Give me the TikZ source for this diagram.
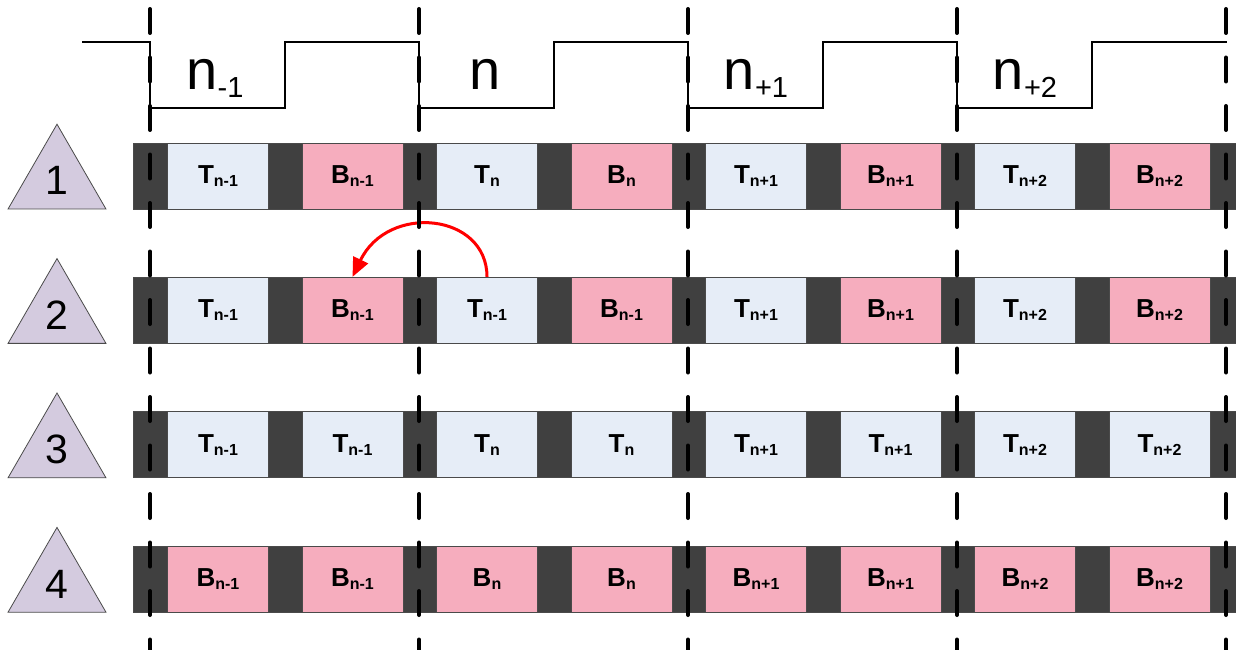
\documentclass[tikz,border=0pt]{standalone}
\usepackage{fontspec}
\setmainfont{Liberation Sans}
\usetikzlibrary{shapes.geometric,arrows.meta}
\definecolor{darkseg}{HTML}{404040}
\definecolor{tboxc}{HTML}{E6EDF7}
\definecolor{bboxc}{HTML}{F6ADBE}
\definecolor{trifill}{HTML}{D4CBDF}
\definecolor{edgec}{HTML}{4A4A4A}
\definecolor{arrred}{HTML}{FF0000}
\newcommand\boxlab[2]{\fontsize{26}{28}\selectfont\bfseries #1\raisebox{-3pt}{\fontsize{16}{17}\selectfont #2}}
\newcommand\siglab[1]{\fontsize{56}{60}\selectfont n\raisebox{-8pt}{\fontsize{29}{31}\selectfont #1}}
\begin{document}
\begin{tikzpicture}[x=1pt,y=-1pt,
  seg/.style={draw=edgec, line width=1pt, fill=darkseg, minimum width=34pt, minimum height=66pt, inner sep=0pt, anchor=west},
  cell/.style={draw=edgec, line width=1pt, minimum width=101pt, minimum height=66pt, inner sep=0pt, anchor=west},
  cellT/.style={cell, fill=tboxc},
  cellB/.style={cell, fill=bboxc},
  tri/.style={regular polygon, regular polygon sides=3, minimum size=113pt, inner sep=0pt, draw=edgec, line width=0.8pt, fill=trifill, font=\fontsize{41}{45}\selectfont},
  signal/.style={line width=2pt, black},
  vdash/.style={line width=4pt, black, line cap=round, dash pattern=on 24pt off 24.5pt},
  arrowred/.style={line width=3pt, arrred, -{Triangle[length=19pt,width=16pt]}},
  siglabel/.style={anchor=base, inner sep=0pt}
]
\useasboundingbox (0,0) rectangle (1236,650);
\clip (0,0) rectangle (1236,650);

% clock signal
\draw[signal] (82,42) -- (150,42) -- (150,108) -- (284.5,108) -- (284.5,42)
  -- (419,42) -- (419,108) -- (553.5,108) -- (553.5,42)
  -- (688,42) -- (688,108) -- (822.5,108) -- (822.5,42)
  -- (957,42) -- (957,108) -- (1091.5,108) -- (1091.5,42) -- (1227,42);

\node[siglabel] (l1) at (215,90) {\siglab{-1}};
\node[siglabel] (l2) at (485,90) {\fontsize{56}{60}\selectfont n};
\node[siglabel] (l3) at (756,90) {\siglab{+1}};
\node[siglabel] (l4) at (1025,90) {\siglab{+2}};

% rows
\foreach \r/\cells in {
  1/{T/n-1,B/n-1,T/n,B/n,T/n+1,B/n+1,T/n+2,B/n+2},
  2/{T/n-1,B/n-1,T/n-1,B/n-1,T/n+1,B/n+1,T/n+2,B/n+2},
  3/{T/n-1,T/n-1,T/n,T/n,T/n+1,T/n+1,T/n+2,T/n+2},
  4/{B/n-1,B/n-1,B/n,B/n,B/n+1,B/n+1,B/n+2,B/n+2}} {
  \pgfmathsetmacro\yy{176+134.4*(\r-1)}
  \foreach \k in {0,...,8} {
    \pgfmathsetmacro\xx{133+134.5*\k}
    \node[seg] (d\r-\k) at (\xx,\yy) {};
  }
  \foreach \c/\s [count=\k] in \cells {
    \pgfmathsetmacro\xx{167+134.5*(\k-1)}
    \node[cell\c] (c\r-\k) at (\xx,\yy) {\boxlab{\c}{\s}};
  }
  \pgfmathsetmacro\ty{\yy+4.7}
  \node[tri] (t\r) at (57,\ty) {\r};
}

% red arrow
\draw[arrowred] (c2-3.north) .. controls (487,213) and (388,203) .. (c2-2.north);

% dashed period lines
\foreach \k in {0,...,4} {
  \pgfmathsetmacro\xx{150+269*\k}
  \coordinate (vt\k) at (\xx,9);
  \coordinate (vb\k) at (\xx,652);
  \draw[vdash] (vt\k) -- (vb\k);
}
\end{tikzpicture}
\end{document}
